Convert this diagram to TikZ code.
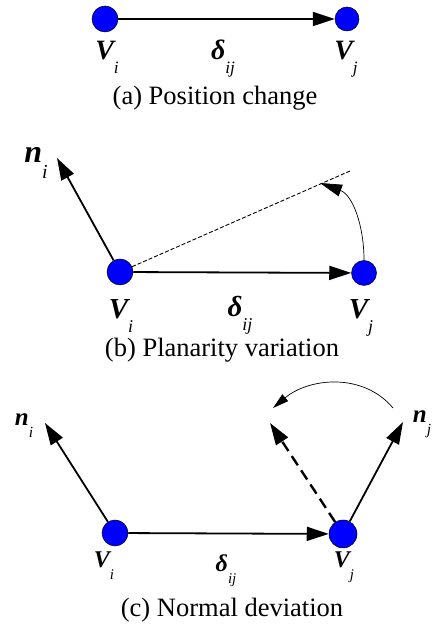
\documentclass[tikz,border=0pt]{standalone}
\usepackage{fontspec}
\setmainfont{Liberation Serif}
\usepackage{graphicx}
\usetikzlibrary{arrows.meta}
\tikzset{
  % blue dot = mesh vertex
  vertex/.style={circle, fill=blue, draw=black, line width=0.5pt,
                 inner sep=0pt, minimum size=#1},
  % thick black vector
  vec/.style={-{Triangle[length=22pt,width=14pt]}, line width=1.8pt},
  % thin curved arrow = rotation
  turn/.style={-{Triangle[length=#1,width=0.55*#1]}, line width=0.7pt},
  % symbol labels and captions
  lab/.style={inner sep=0pt, anchor=base,
              font=\fontsize{#1}{#1}\selectfont},
  caption/.style={inner sep=0pt, anchor=base,
                  font=\fontsize{26.5pt}{30pt}\selectfont},
}
\newcommand{\sym}[2]{{\bfseries\itshape #1}\raisebox{-0.48em}{\scalebox{0.62}{\itshape #2}}}

\begin{document}
\begin{tikzpicture}[x=1pt, y=1pt]
  \useasboundingbox (0,0) rectangle (434,628);
  % (a) position change
  \node[vertex=26pt] (via) at (105,609) {};
  \node[vertex=24pt] (vja) at (347,609) {};
  \draw[vec] (via) -- (vja);
  \node[lab=28pt] (lvia) at (107,568) {\sym{V}{i}};
  \node[lab=28pt] (lda)  at (223,568) {\sym{δ}{ij}};
  \node[lab=28pt] (lvja) at (346,568) {\sym{V}{j}};
  \node[caption] (capa) at (215,523) {(a) Position change};

  % (b) planarity variation
  \node[vertex=26pt] (vib) at (120,356) {};
  \node[vertex=25pt] (vjb) at (364,355) {};
  \coordinate (nib) at (57,470);
  \coordinate (planeb) at (350,457);
  \coordinate (turnb) at (320,445);
  \draw[vec] (vib) -- (vjb);
  \draw[vec] (vib) -- (nib);
  \draw[line width=0.9pt, dash pattern=on 4pt off 2pt] (vib) -- (planeb);
  \draw[turn=22pt] (vjb.north) to[out=90, in=-20] (turnb);
  \node[lab=32pt] (lnib) at (36,465) {\sym{n}{i}};
  \node[lab=29pt] (lvib) at (121,309) {\sym{V}{i}};
  \node[lab=29pt] (ldb)  at (240,311) {\sym{δ}{ij}};
  \node[lab=29pt] (lvjb) at (361,309) {\sym{V}{j}};
  \node[caption] (capb) at (222,271) {(b) Planarity variation};

  % (c) normal deviation
  \node[vertex=26pt] (vic) at (115,95) {};
  \node[vertex=28pt] (vjc) at (343,94) {};
  \coordinate (nic) at (45,205);
  \coordinate (njc) at (403,206);
  \coordinate (newc) at (270,205);
  \coordinate (turnsc) at (393,220);
  \coordinate (turnec) at (273,220);
  \draw[vec] (vic) -- (vjc);
  \draw[vec] (vic) -- (nic);
  \draw[vec] (vjc) -- (njc);
  \draw[vec, line width=2.4pt, dash pattern=on 11pt off 6pt] (vjc) -- (newc);
  \draw[turn=16pt] (turnsc) to[out=130, in=40] (turnec);
  \node[lab=25pt] (lnic) at (24,202) {\sym{n}{i}};
  \node[lab=25pt] (lnjc) at (422,205) {\sym{n}{j}};
  \node[lab=24pt] (lvic) at (104,60) {\sym{V}{i}};
  \node[lab=24pt] (ldc)  at (226,56) {\sym{δ}{ij}};
  \node[lab=24pt] (lvjc) at (344,60) {\sym{V}{j}};
  \node[caption] (capc) at (232,11) {(c) Normal deviation};
\end{tikzpicture}
\end{document}
